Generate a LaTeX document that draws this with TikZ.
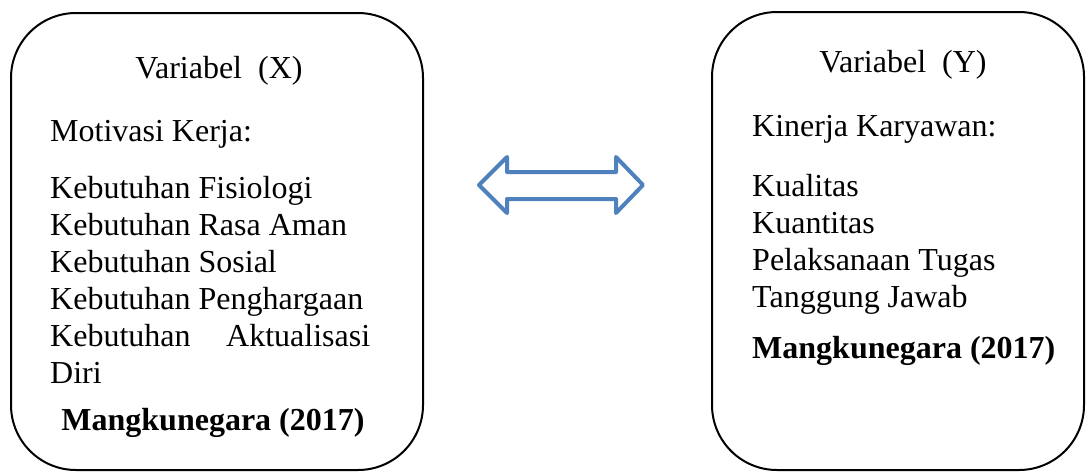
\documentclass[tikz,border=0pt]{standalone}
\usepackage{fontspec}
\setmainfont{Liberation Serif}
\usepackage{tikz}

\definecolor{arrowblue}{RGB}{79,129,189}

\begin{document}
\begin{tikzpicture}[x=1pt, y=-1pt,
    varbox/.style={draw=black, line width=2pt, rounded corners=65pt},
    txt/.style={inner sep=0pt, font=\fontsize{32}{37}\selectfont},
    bold/.style={txt, font=\fontsize{32}{37}\selectfont\bfseries}]
    \useasboundingbox (0,0) rectangle (1086,475);

    % kotak variabel
    \draw[varbox] (11,13) rectangle (423,470);
    \draw[varbox] (712,12) rectangle (1084,470);

    % variabel X
    \node[txt, anchor=base] (titleX) at (219,78) {Variabel\hspace{0.5em}(X)};
    \node[txt, anchor=base west] (motiv) at (50,141) {Motivasi Kerja:};
    \foreach \item [count=\i] in {Kebutuhan Fisiologi, Kebutuhan Rasa Aman,
        Kebutuhan Sosial, Kebutuhan Penghargaan,
        \makebox[320pt][s]{Kebutuhan Aktualisasi}, Diri}
        \node[txt, anchor=base west] (itemX\i) at (50,161+37*\i) {\item};
    \node[bold, anchor=base] (srcX) at (213,430) {Mangkunegara (2017)};

    % variabel Y
    \node[txt, anchor=base] (titleY) at (903,72) {Variabel\hspace{0.5em}(Y)};
    \node[txt, anchor=base west] (kinerja) at (752,136) {Kinerja Karyawan:};
    \foreach \item [count=\i] in {Kualitas, Kuantitas, Pelaksanaan Tugas, Tanggung Jawab}
        \node[txt, anchor=base west] (itemY\i) at (752,159+37*\i) {\item};
    \node[bold, anchor=base west] (srcY) at (752,358) {Mangkunegara (2017)};

    % panah dua arah
    \draw[arrowblue, line width=4pt, line join=round]
        (479,185) -- (507,157) -- (507,172) -- (616,172) -- (616,157)
        -- (643,185) -- (616,213) -- (616,199) -- (507,199) -- (507,213) -- cycle;
\end{tikzpicture}
\end{document}
